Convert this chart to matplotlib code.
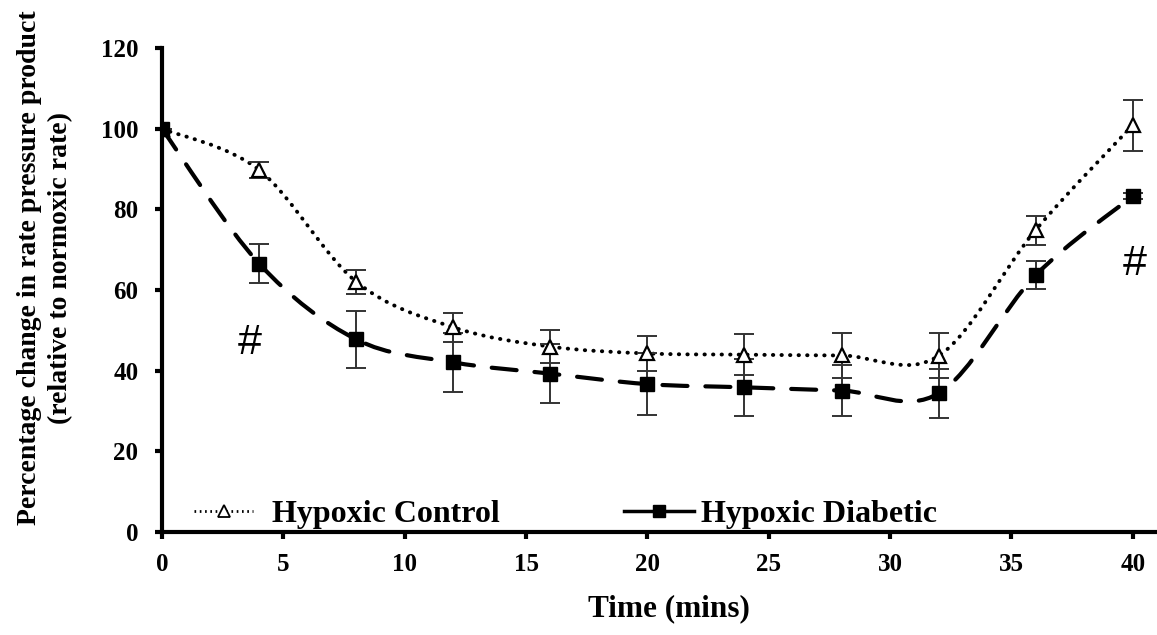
import numpy as np
import matplotlib
matplotlib.use("Agg")
import matplotlib.pyplot as plt
from matplotlib.path import Path
from matplotlib.patches import PathPatch
from matplotlib.lines import Line2D

time = [0, 4, 8, 12, 16, 20, 24, 28, 32, 36, 40]
control = [100, 89.8, 62.1, 50.8, 46.0, 44.3, 44.0, 43.8, 43.7, 74.9, 100.9]
control_err = [0, 2.0, 3.0, 3.6, 4.0, 4.4, 5.1, 5.6, 5.6, 3.6, 6.3]
diabetic = [100, 66.6, 47.8, 42.1, 39.3, 36.7, 35.9, 35.1, 34.4, 63.7, 83.3]
diabetic_err = [0, 4.8, 7.0, 7.3, 7.4, 7.6, 7.0, 6.3, 6.0, 3.5, 0.8]
series_names = ["Hypoxic Control", "Hypoxic Diabetic"]
xticks = [0, 5, 10, 15, 20, 25, 30, 35, 40]
yticks = [0, 20, 40, 60, 80, 100, 120]

SERIF = ["Liberation Serif", "DejaVu Serif"]
SANS = ["Liberation Sans", "DejaVu Sans"]
plt.rcParams['font.family'] = SERIF


def smooth_path(xs, ys):
    xs = np.asarray(xs, float)
    ys = np.asarray(ys, float)
    n = len(xs)
    verts = [(xs[0], ys[0])]
    codes = [Path.MOVETO]
    for i in range(n - 1):
        x0, y0 = (xs[i - 1], ys[i - 1]) if i > 0 else (xs[i], ys[i])
        x3, y3 = (xs[i + 2], ys[i + 2]) if i + 2 < n else (xs[i + 1], ys[i + 1])
        c1 = (xs[i] + (xs[i + 1] - x0) / 6, ys[i] + (ys[i + 1] - y0) / 6)
        c2 = (xs[i + 1] - (x3 - xs[i]) / 6, ys[i + 1] - (y3 - ys[i]) / 6)
        verts += [c1, c2, (xs[i + 1], ys[i + 1])]
        codes += [Path.CURVE4] * 3
    return Path(verts, codes)


fig = plt.figure(figsize=(11.57, 6.35), dpi=100)
ax = fig.add_axes([0.14, 0.162, 0.86, 0.7622])

# smoothed lines
ax.add_patch(PathPatch(smooth_path(time, control), fill=False, edgecolor="black",
                       lw=2.8, linestyle=(0, (0.1, 2.1)), capstyle="round", zorder=2))
ax.add_patch(PathPatch(smooth_path(time, diabetic), fill=False, edgecolor="black",
                       lw=3.0, linestyle=(0, (6.0, 4.3)), capstyle="round", zorder=2))

# error bars
for vals, errs in ((control, control_err), (diabetic, diabetic_err)):
    ax.errorbar(time, vals, yerr=errs, fmt="none", ecolor="#333333",
                elinewidth=1.4, capsize=7, capthick=1.4, zorder=3)

# markers
ax.plot(time, control, linestyle="none", marker="^", markersize=9.5,
        markerfacecolor="white", markeredgecolor="black", markeredgewidth=1.6, zorder=4)
ax.plot(time, diabetic, linestyle="none", marker="s", markersize=9.5,
        markerfacecolor="black", markeredgecolor="black", zorder=4)

ax.set_xlim(0, 41)
ax.set_ylim(0, 120)
ax.set_xticks(xticks)
ax.set_yticks(yticks)
for s in ["top", "right"]:
    ax.spines[s].set_visible(False)
for s in ["left", "bottom"]:
    ax.spines[s].set_linewidth(3)
ax.tick_params(axis="both", width=3, length=5, direction="out", labelsize=18)
ax.tick_params(axis="x", pad=10)
ax.tick_params(axis="y", pad=12)
for lbl in ax.get_xticklabels() + ax.get_yticklabels():
    lbl.set_fontweight("bold")

ax.set_xlabel("Time (mins)", fontsize=22.5, fontweight="bold")
ax.xaxis.set_label_coords(0.5096, -0.128)

fig.text(0.039, 0.578, "Percentage change in rate pressure product\n(relative to normoxic rate)",
         rotation=90, ha="center", va="center", fontsize=20, fontweight="bold",
         multialignment="center", linespacing=1.3)

# annotations
ax.text(3.63, 46.9, "#", fontsize=31, family=SANS, ha="center", va="center")
ax.text(40.1, 66.6, "#", fontsize=31, family=SANS, ha="center", va="center")

h_control = Line2D([], [], color="black", lw=2, linestyle=(0, (0.6, 1.3)), marker="^",
                   markersize=8, markerfacecolor="white", markeredgecolor="black",
                   markeredgewidth=1.3)
h_diab = Line2D([], [], color="black", lw=2.5, linestyle="-", marker="s",
                markersize=9, markerfacecolor="black")
leg_prop = {"family": SERIF, "weight": "bold", "size": 23}
leg1 = ax.legend([h_control], [series_names[0]], loc="center left",
                 bbox_to_anchor=(0.0322, 0.036), frameon=False, prop=leg_prop,
                 handlelength=1.85, handletextpad=0.6, borderpad=0, borderaxespad=0)
ax.add_artist(leg1)
ax.legend([h_diab], [series_names[1]], loc="center left",
          bbox_to_anchor=(0.4643, 0.036), frameon=False, prop=leg_prop,
          handlelength=2.2, handletextpad=0.2, borderpad=0, borderaxespad=0)

fig.savefig("out.png", dpi=100)
